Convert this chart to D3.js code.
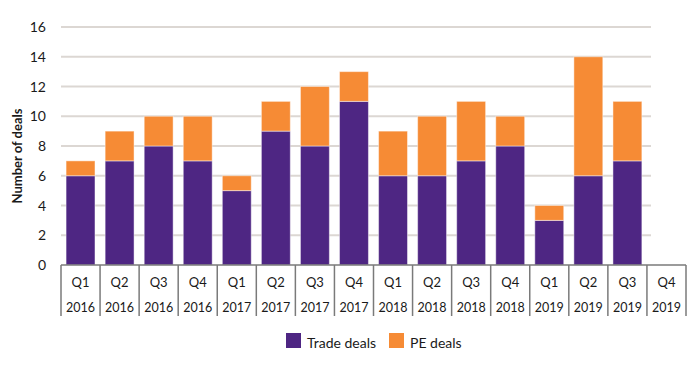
<!DOCTYPE html>
<html>
<head>
<meta charset="utf-8">
<script src="https://cdn.jsdelivr.net/npm/d3@7"></script>
<style>
  html, body { margin: 0; padding: 0; background: #fff; }
  svg { display: block; font-family: "Lato", "Open Sans", sans-serif; }
</style>
</head>
<body>
<svg id="chart" width="700" height="368"></svg>
<script>
const quarters = ["Q1","Q2","Q3","Q4","Q1","Q2","Q3","Q4","Q1","Q2","Q3","Q4","Q1","Q2","Q3","Q4"];
const years = ["2016","2016","2016","2016","2017","2017","2017","2017","2018","2018","2018","2018","2019","2019","2019","2019"];
const tradeDeals = [6, 7, 8, 7, 5, 9, 8, 11, 6, 6, 7, 8, 3, 6, 7, 0];
const peDeals    = [1, 2, 2, 3, 1, 2, 4, 2, 3, 4, 4, 2, 1, 8, 4, 0];
const yTicks = [0, 2, 4, 6, 8, 10, 12, 14, 16];
const seriesNames = ["Trade deals", "PE deals"];
const colors = ["#4e2683", "#f68b35"];

(function () {
const svg = d3.select("#chart");
const mLeft = 61, mRight = 686, mTop = 27, mBottom = 265;
const gridRight = 651;

const keys = quarters.map((q, i) => i);
const x = d3.scaleBand().domain(keys).range([mLeft, mRight]).paddingInner(0.26).paddingOuter(0.13);
const y = d3.scaleLinear().domain([0, 16]).range([mBottom, mTop]);

// gridlines
svg.append("g").selectAll("line").data(yTicks.filter(d => d > 0)).join("line")
  .attr("x1", mLeft).attr("x2", gridRight)
  .attr("y1", d => y(d)).attr("y2", d => y(d))
  .attr("stroke", "#dcd7d3").attr("stroke-width", 2);

// y tick labels
svg.append("g").selectAll("text").data(yTicks).join("text")
  .attr("x", 46).attr("y", d => y(d)).attr("dy", "0.36em")
  .attr("text-anchor", "end").attr("font-size", 14).attr("fill", "#1a1a1a")
  .text(d => d);

// y axis title
svg.append("text")
  .attr("transform", `translate(22,${(mTop + mBottom) / 2 + 10}) rotate(-90)`)
  .attr("text-anchor", "middle").attr("font-size", 13).attr("font-weight", "bold").attr("fill", "#1a1a1a")
  .text("Number of deals");

// stacked bars
const table = keys.map(i => ({ i, trade: tradeDeals[i], pe: peDeals[i] }));
const stack = d3.stack().keys(["trade", "pe"])(table);
svg.append("g").selectAll("g").data(stack).join("g")
  .attr("fill", (d, k) => colors[k])
  .selectAll("rect").data(d => d.filter(s => s[1] > s[0])).join("rect")
  .attr("x", d => x(d.data.i))
  .attr("width", x.bandwidth())
  .attr("y", d => y(d[1]))
  .attr("height", d => y(d[0]) - y(d[1]))
  .attr("stroke", "#ffffff").attr("stroke-opacity", 0.45).attr("stroke-width", 1);

// category axis
const step = x.step();
const bounds = d3.range(keys.length + 1).map(i => mLeft + i * step);
svg.append("line").attr("x1", mLeft).attr("x2", mRight).attr("y1", mBottom).attr("y2", mBottom)
  .attr("stroke", "#7a7a7a").attr("stroke-width", 1.5);
svg.append("g").selectAll("line").data(bounds).join("line")
  .attr("x1", d => d).attr("x2", d => d).attr("y1", mBottom).attr("y2", 316)
  .attr("stroke", "#7a7a7a").attr("stroke-width", 1.5);

const cx = i => x(i) + x.bandwidth() / 2;
svg.append("g").selectAll("text").data(keys).join("text")
  .attr("x", cx).attr("y", 286.5).attr("text-anchor", "middle")
  .attr("font-size", 13).attr("fill", "#1a1a1a").text(i => quarters[i]);
svg.append("g").selectAll("text").data(keys).join("text")
  .attr("x", cx).attr("y", 311.5).attr("text-anchor", "middle")
  .attr("font-size", 12.5).attr("fill", "#1a1a1a").text(i => years[i]);

// legend
const legend = svg.append("g");
const legX = [286, 389];
seriesNames.forEach((name, k) => {
  legend.append("rect").attr("x", legX[k]).attr("y", 333).attr("width", 15).attr("height", 15).attr("fill", colors[k]);
  legend.append("text").attr("x", legX[k] + 21).attr("y", 347.5)
    .attr("font-size", 14).attr("fill", "#1a1a1a").text(name);
});
})();
</script>
</body>
</html>
